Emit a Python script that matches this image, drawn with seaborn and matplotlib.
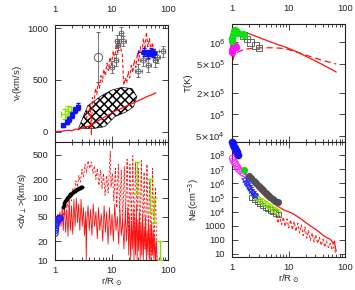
import matplotlib
matplotlib.use('Agg')
import matplotlib.pyplot as plt
import seaborn as sns

# ---------------- v_r panel (top left)
r_slow = [1.0, 1.15, 1.3, 1.5, 1.7, 2.0, 2.3, 2.6, 3.0, 3.4, 3.9, 4.5, 5.2, 6.0, 7.0, 8.0, 9.5, 11, 13, 15, 18, 21, 25, 30, 36, 43, 51, 61]
v_slow = [0, 4, 2, 10, 14, 8, 25, 20, 35, 45, 50, 70, 85, 110, 130, 150, 170, 195, 210, 225, 245, 260, 280, 300, 320, 340, 355, 375]

r_fast = [3.6, 3.8, 4.0, 4.2, 4.4, 4.6, 4.9, 5.2, 5.5, 5.8, 6.1, 6.5, 6.9, 7.3, 7.8, 8.3, 8.8, 9.4, 10, 10.7,
          11.4, 12.1, 12.9, 13.7, 14.6, 15.5, 16.5, 17.5, 18.6, 19.8, 21, 22.4, 23.8, 25.3, 27, 28.7, 30.5, 32.5,
          34.5, 36.7, 39, 41.5, 44, 47, 50, 53, 56, 60]
v_fast = [120, 200, 160, 260, -30, 330, 280, 420, 360, 470, 420, 540, 480, 600, 540, 660, 590, 720, 650, 780,
          700, 840, 760, 880, 800, 760, 450, 520, 470, 580, 520, 640, 570, 690, 620, 760, 680, 820,
          740, 900, 790, 960, 820, 900, 780, 860, 760, 800]

hatch_r = [2.6, 3.8, 6.6, 10, 15, 23, 28, 24.5, 18, 11.4, 7.6, 5.0, 3.4]
hatch_v = [30, 250, 345, 400, 427, 417, 337, 240, 190, 144, 48, 32, 32]

gray_r = [10.0, 12.0, 12.6, 13.2, 14.7, 16.2, 30, 36, 45, 60, 64, 80]
gray_v = [625, 690, 880, 840, 950, 875, 590, 690, 640, 690, 720, 775]
gray_verr = [60, 60, 50, 50, 60, 50, 60, 60, 60, 70, 60, 50]
gray_rerr = [1, 1, 1, 1, 1, 1.5, 4, 4, 5, 6, 8, 10]
big_r = [5.8]
big_v = [720]
big_verr = [240]

blue_r = [1.4, 1.6, 1.8, 2.0, 2.3, 2.6, 38, 44, 50, 55]
blue_v = [60, 90, 120, 160, 210, 240, 770, 750, 770, 760]
blue_verr = [15, 20, 25, 30, 30, 35, 40, 40, 40, 40]
blue_rerr = [0.05, 0.05, 0.05, 0.1, 0.1, 0.1, 8, 6, 8, 6]

green_r = [1.5, 1.7, 1.9]
green_v = [170, 200, 185]
green_verr = [50, 45, 50]

# ---------------- <dv_perp> panel (bottom left)
r_dvs = [1.0, 1.0, 1.03, 1.07, 1.12, 1.17, 1.22, 1.28, 1.34, 1.4,
         1.47, 1.54, 1.62, 1.7, 1.78, 1.87, 1.96, 2.06, 2.16, 2.27,
         2.38, 2.5, 2.62, 2.75, 2.89, 3.03, 3.18, 3.34, 3.5, 3.57,
         3.65, 3.85, 4.05, 4.25, 4.5, 4.75, 5.0, 5.3, 5.6, 5.9,
         6.2, 6.6, 7.0, 7.4, 7.8, 8.2, 8.7, 9.2, 9.7, 10.2,
         10.8, 11.4, 12.0, 12.7, 13.4, 14.1, 14.9, 15.7, 16.6, 17.5,
         18.4, 19.4, 20.2, 21.0, 21.8, 22.6, 23.4, 24.2, 25.0, 25.8,
         26.6, 27.5, 28.4, 29.3, 30.2, 31.2, 32.2, 33.2, 34.3, 35.4,
         36.5, 37.7, 38.9, 40.1, 41.4, 42.7, 44.0, 45.4, 46.8, 48.3,
         49.8, 51.4, 53.0, 54.7, 56.4, 58.2, 60.0, 62.0, 64.0]
dv_s = [10, 45, 50, 42, 55, 38, 60, 35, 70, 30,
        85, 28, 65, 24, 90, 30, 75, 26, 95, 35,
        100, 40, 80, 30, 95, 35, 70, 25, 60, 10,
        40, 75, 30, 65, 25, 80, 35, 60, 22, 70,
        30, 55, 20, 75, 28, 60, 18, 70, 25, 55,
        20, 80, 30, 50, 18, 65, 25, 45, 15, 60,
        20, 70, 12, 55, 10, 40, 15, 65, 10, 50,
        12, 75, 10, 45, 14, 60, 10, 40, 12, 55,
        10, 35, 15, 50, 10, 30, 12, 45, 10, 35,
        10, 40, 12, 30, 10, 25, 10, 20, 10]

r_dvd = [1.35, 1.45, 1.55, 1.65, 1.75, 1.85, 1.95, 2.05, 2.2, 2.35,
         2.5, 2.65, 2.8, 3.0, 3.2, 3.4, 3.6, 3.85, 4.1, 4.4,
         4.7, 5.0, 5.3, 5.6, 6.0, 6.4, 6.8, 7.2, 7.7, 8.2,
         8.7, 9.2, 9.5, 9.8, 10.4, 11.0, 11.7, 12.4, 13.2, 14.0,
         14.9, 15.8, 16.8, 17.8, 18.9, 20.0, 21.2, 22.5, 23.8, 25.2,
         26.7, 28.3, 30.0, 31.8, 33.7, 35.7, 37.8, 40.0, 42.4, 44.9,
         47.6, 50.4, 53.4, 56.6, 60.0, 63.5]
dv_d = [45, 60, 55, 80, 70, 110, 90, 140, 120, 190,
        150, 230, 180, 290, 220, 350, 260, 400, 300, 380,
        250, 330, 200, 300, 160, 280, 140, 250, 110, 230,
        120, 300, 560, 150, 250, 90, 300, 70, 350, 60,
        280, 40, 320, 50, 420, 30, 350, 40, 480, 25,
        380, 60, 300, 20, 400, 30, 260, 15, 350, 25,
        200, 12, 300, 20, 150, 10]

black_r = [1.38, 1.42, 1.46, 1.5, 1.55, 1.6, 1.65, 1.7, 1.76, 1.82, 1.88, 1.95, 2.02, 2.1, 2.18, 2.26, 2.35, 2.45, 2.55, 2.65, 2.75, 2.85, 2.95]
black_dv = [72, 78, 84, 88, 92, 96, 99, 103, 107, 111, 114, 118, 121, 125, 128, 131, 135, 138, 141, 144, 147, 150, 152]

bluec_r = [1.0, 1.01, 1.02, 1.04, 1.06, 1.08, 1.1, 1.13, 1.16, 1.2, 1.24]
bluec_dv = [27, 30, 33, 36, 39, 41, 43, 45, 46, 47, 47]

grn_r = [28, 48, 56, 72]
grn_dv = [250, 140, 70, 14]
grn_lo = [130, 80, 30, 4]
grn_hi = [130, 60, 30, 6]

# ---------------- T panel (top right)
r_t = [1.0, 1.002, 1.005, 1.01, 1.03, 1.07, 1.15, 1.3, 1.6, 2, 3, 5, 9.1, 15, 25, 40, 70]
t_solid = [2e4, 1e5, 3.2e5, 5.6e5, 8e5, 1.0e6, 1.17e6, 1.29e6, 1.37e6, 1.32e6, 1.17e6, 1.0e6, 8.5e5, 7.2e5, 5.9e5, 4.9e5, 3.86e5]
r_td = [1.02, 1.1, 1.3, 1.6, 1.9, 2.5, 3.5, 5, 7, 9.1, 15, 25, 40, 70]
t_dash = [5.5e5, 6.6e5, 7.4e5, 7.9e5, 8.1e5, 8.3e5, 8.4e5, 8.4e5, 8.3e5, 8.1e5, 7.2e5, 6.3e5, 5.6e5, 5.0e5]

tg_r = [1.0, 1.02, 1.04, 1.07, 1.1, 1.13, 1.17, 1.22, 1.3, 1.55, 1.65]
tg_t = [1.05e6, 1.15e6, 1.25e6, 1.35e6, 1.45e6, 1.5e6, 1.45e6, 1.4e6, 1.35e6, 1.3e6, 1.25e6]
tm_r = [1.0, 1.01, 1.03, 1.05, 1.08, 1.12, 1.16]
tm_t = [7.3e5, 7.8e5, 8.3e5, 8.8e5, 9.2e5, 9.0e5, 8.5e5]
ts_r = [1.0, 1.6, 1.86, 2.14, 2.6, 3.0]
ts_t = [1.05e6, 1.24e6, 1.11e6, 1.0e6, 9e5, 8.4e5]

# ---------------- Ne panel (bottom right)
r_ne = [1.0, 1.2, 1.5, 2, 3, 4, 5, 6.1, 8, 10, 12, 15, 19, 24, 30, 36, 42, 48, 54, 58, 62, 65, 68, 70]
ne_solid = [2.5e8, 4e7, 1e7, 2e6, 3.2e5, 1e5, 5e4, 2.7e4, 1.4e4, 9.5e3, 7.2e3, 4e3, 2e3, 1e3, 560, 320, 195, 140, 112, 85, 50, 80, 25, 16]
r_ned = [6.0, 6.5, 7.0, 7.5, 8.1, 8.7, 9.4, 10.1, 10.9, 11.7, 12.6, 13.6, 14.6, 15.7, 16.9, 18.2, 19.6,
         21.1, 22.7, 24.4, 26.3, 28.3, 30.4, 32.7, 35.2, 37.9, 40.8, 43.9, 47.2, 50.8, 54.7, 58.8, 63.3, 68.0]
ne_dash = [6e3, 1.5e3, 5e3, 1.2e3, 4e3, 900, 3e3, 700, 2.5e3, 500, 2e3, 400, 1.5e3, 300, 1.1e3, 200, 800,
           130, 450, 90, 300, 70, 220, 55, 150, 40, 110, 30, 80, 28, 55, 20, 30, 12]

nb_r = [1.0, 1.03, 1.06, 1.1, 1.14, 1.18, 1.22, 1.26]
nb_ne = [8e8, 7e8, 5e8, 4e8, 3e8, 2.2e8, 1.6e8, 1.1e8]
nm_r = [1.02, 1.05, 1.1, 1.15, 1.2, 1.25, 1.3, 1.4, 1.5, 1.6]
nm_ne = [6e7, 4e7, 3e7, 2.5e7, 1.8e7, 1.4e7, 1e7, 8e6, 6e6, 5e6]
ngc_r = [1.62]
ngc_ne = [9.5e6]
nk_r = [2.0, 2.2, 2.45, 2.7, 3.0, 3.3, 3.6, 4.0, 4.4, 4.8, 5.3, 5.8, 6.4]
nk_ne = [3.5e6, 2.3e6, 1.5e6, 1e6, 6.5e5, 4.5e5, 3.2e5, 2.2e5, 1.5e5, 1.1e5, 8e4, 6e4, 4.5e4]
ns_r = [1.7, 1.8, 1.9, 2.0, 2.1, 2.2, 2.35, 2.5, 2.6]
ns_ne = [1.8e6, 1.2e6, 9e5, 6e5, 4.5e5, 3e5, 2.2e5, 1.6e5, 1.3e5]
nq_r = [2.2, 2.5, 2.8, 3.1, 3.5, 3.9, 4.3, 4.8, 5.3, 5.9, 6.6]
nq_ne = [1e5, 7e4, 5e4, 3.7e4, 2.7e4, 2e4, 1.6e4, 1.3e4, 1.0e4, 8e3, 6.5e3]
nx_r = [2.5, 2.8, 3.1, 3.5, 3.9, 4.3, 4.8, 5.3, 5.9, 6.5]
nx_ne = [1.3e5, 9e4, 6.5e4, 4.8e4, 3.6e4, 2.7e4, 2e4, 1.5e4, 1.2e4, 9e3]

sns.set_style('ticks')
plt.rcParams['font.family'] = ['Liberation Sans', 'DejaVu Sans']
plt.rcParams['font.size'] = 6.8
plt.rcParams['hatch.linewidth'] = 1.1

RED = '#ff1010'
GRAY = '#606060'
YGREEN = '#88e000'

fig = plt.figure(figsize=(3.55, 2.9), dpi=100)


def box(x0, y0, x1, y1):
    return fig.add_axes([x0 / 355, 1 - y1 / 290, (x1 - x0) / 355, (y1 - y0) / 290])


ax_v = box(55, 25, 168, 142)
ax_d = box(55, 142, 168, 260)
ax_t = box(232, 24, 345, 142)
ax_n = box(232, 142, 345, 257)

# v_r
ax_v.fill(hatch_r, hatch_v, facecolor='white', edgecolor='black', hatch='xxxx', lw=0.5, zorder=1)
sns.lineplot(x=r_slow, y=v_slow, ax=ax_v, color=RED, lw=0.9, estimator=None, sort=False, zorder=3)
sns.lineplot(x=r_fast, y=v_fast, ax=ax_v, color=RED, lw=0.8, linestyle=(0, (3, 2)), estimator=None, sort=False, zorder=2)
ax_v.errorbar(gray_r, gray_v, yerr=gray_verr, xerr=gray_rerr, fmt='o', mfc='none', mec=GRAY, ecolor=GRAY,
              ms=3.5, mew=0.6, elinewidth=0.6, capsize=1.5, zorder=4)
ax_v.errorbar(big_r, big_v, yerr=big_verr, fmt='o', mfc='none', mec=GRAY, ecolor=GRAY,
              ms=6, mew=0.7, elinewidth=0.6, capsize=1.5, zorder=4)
ax_v.errorbar(blue_r, blue_v, yerr=blue_verr, xerr=blue_rerr, fmt='s', color='#1010ff', ms=2.2,
              elinewidth=0.7, capsize=1.2, zorder=5)
ax_v.errorbar(green_r, green_v, yerr=green_verr, xerr=0.2, fmt='none', ecolor=YGREEN,
              elinewidth=0.9, capsize=2, zorder=4)
ax_v.set_ylim(-100, 1030)
ax_v.set_yticks([0, 500, 1000])
ax_v.set_ylabel('v$_r$(km/s)')

# <dv_perp>
sns.lineplot(x=r_dvs, y=dv_s, ax=ax_d, color=RED, lw=0.6, estimator=None, sort=False, zorder=2)
sns.lineplot(x=r_dvd, y=dv_d, ax=ax_d, color=RED, lw=0.6, linestyle=(0, (3, 2)), estimator=None, sort=False, zorder=2)
ax_d.errorbar(grn_r, grn_dv, yerr=[grn_lo, grn_hi], fmt='none', ecolor=YGREEN, elinewidth=1.0, capsize=2, zorder=3)
sns.scatterplot(x=black_r, y=black_dv, ax=ax_d, color='black', s=8, linewidth=0, zorder=4)
sns.scatterplot(x=bluec_r, y=bluec_dv, ax=ax_d, facecolor='none', edgecolor='#2020ff', s=20, linewidth=0.8, zorder=4)
ax_d.set_yscale('log')
ax_d.set_ylim(10, 800)
ax_d.set_yticks([10, 20, 50, 100, 200, 500], ['10', '20', '50', '100', '200', '500'])
ax_d.yaxis.set_minor_locator(matplotlib.ticker.NullLocator())
ax_d.set_ylabel('<dv$_\\perp$>(km/s)')
ax_d.set_xlabel('r/R$_\\odot$', labelpad=0.5)

# T
sns.lineplot(x=r_t, y=t_solid, ax=ax_t, color=RED, lw=0.9, estimator=None, sort=False, zorder=2)
sns.lineplot(x=r_td, y=t_dash, ax=ax_t, color=RED, lw=0.9, linestyle=(0, (5, 3)), estimator=None, sort=False, zorder=2)
sns.scatterplot(x=ts_r, y=ts_t, ax=ax_t, marker='s', facecolor='none', edgecolor='#505050', s=22, linewidth=0.6, zorder=3)
sns.scatterplot(x=tm_r, y=tm_t, ax=ax_t, color='#ff10ff', s=28, linewidth=0, zorder=4, clip_on=False)
sns.scatterplot(x=tg_r, y=tg_t, ax=ax_t, color='#10e010', s=28, linewidth=0, zorder=4, clip_on=False)
sns.scatterplot(x=[1.0], y=[4.1e4], ax=ax_t, color='#1010ff', s=25, linewidth=0, zorder=5)
ax_t.set_yscale('log')
ax_t.set_ylim(4.1e4, 1.8e6)
ax_t.set_yticks([5e4, 1e5, 2e5, 5e5, 1e6],
                ['5$\\times$10$^4$', '10$^5$', '2$\\times$10$^5$', '5$\\times$10$^5$', '10$^6$'])
ax_t.yaxis.set_minor_locator(matplotlib.ticker.NullLocator())
ax_t.set_ylabel('T(K)')

# Ne
sns.lineplot(x=r_ne, y=ne_solid, ax=ax_n, color=RED, lw=0.9, estimator=None, sort=False, zorder=2)
sns.lineplot(x=r_ned, y=ne_dash, ax=ax_n, color=RED, lw=0.7, linestyle=(0, (3, 2)), estimator=None, sort=False, zorder=2)
sns.scatterplot(x=nq_r, y=nq_ne, ax=ax_n, marker='s', facecolor='none', edgecolor='#505050', s=14, linewidth=0.6, zorder=3)
sns.scatterplot(x=nx_r, y=nx_ne, ax=ax_n, marker='D', facecolor='none', edgecolor=YGREEN, s=12, linewidth=0.7, zorder=3)
sns.scatterplot(x=nk_r, y=nk_ne, ax=ax_n, color='#505050', s=26, linewidth=0, zorder=4)
sns.scatterplot(x=ns_r, y=ns_ne, ax=ax_n, marker='*', facecolor='none', edgecolor='#2020ff', s=26, linewidth=0.6, zorder=4)
sns.scatterplot(x=nm_r, y=nm_ne, ax=ax_n, facecolor='none', edgecolor='#ff30ff', s=20, linewidth=0.7, zorder=4, clip_on=False)
sns.scatterplot(x=ngc_r, y=ngc_ne, ax=ax_n, color='#10d010', s=26, linewidth=0, zorder=5)
sns.scatterplot(x=nb_r, y=nb_ne, ax=ax_n, color='#1010ff', s=30, linewidth=0, zorder=5, clip_on=False)
ax_n.set_yscale('log')
ax_n.set_ylim(6, 8.5e8)
ax_n.set_yticks([10, 100, 1000, 1e4, 1e5, 1e6, 1e7, 1e8],
                ['10', '100', '1000', '10$^4$', '10$^5$', '10$^6$', '10$^7$', '10$^8$'])
ax_n.yaxis.set_minor_locator(matplotlib.ticker.NullLocator())
ax_n.set_ylabel('Ne(cm$^{-3}$)')
ax_n.set_xlabel('r/R$_\\odot$', labelpad=0.5)

for ax in (ax_v, ax_d, ax_t, ax_n):
    ax.set_xscale('log')
    ax.set_xlim(1, 100)
    ax.set_xticks([1, 10, 100], ['1', '10', '100'])
    ax.tick_params(which='both', direction='in', top=True, right=True, width=0.6, labelsize=6.8)
    ax.tick_params(which='major', length=4)
    ax.tick_params(which='minor', length=2)
    ax.tick_params(axis='y', pad=5)
    ax.tick_params(axis='x', pad=4.5)
    for sp in ax.spines.values():
        sp.set_linewidth(0.8)
        sp.set_color('#222222')
    ax.yaxis.labelpad = 2

for ax in (ax_v, ax_t):
    ax.tick_params(axis='x', labeltop=True, labelbottom=False, pad=8)
    ax.set_xlabel('')

fig.savefig('out.png', dpi=100)
